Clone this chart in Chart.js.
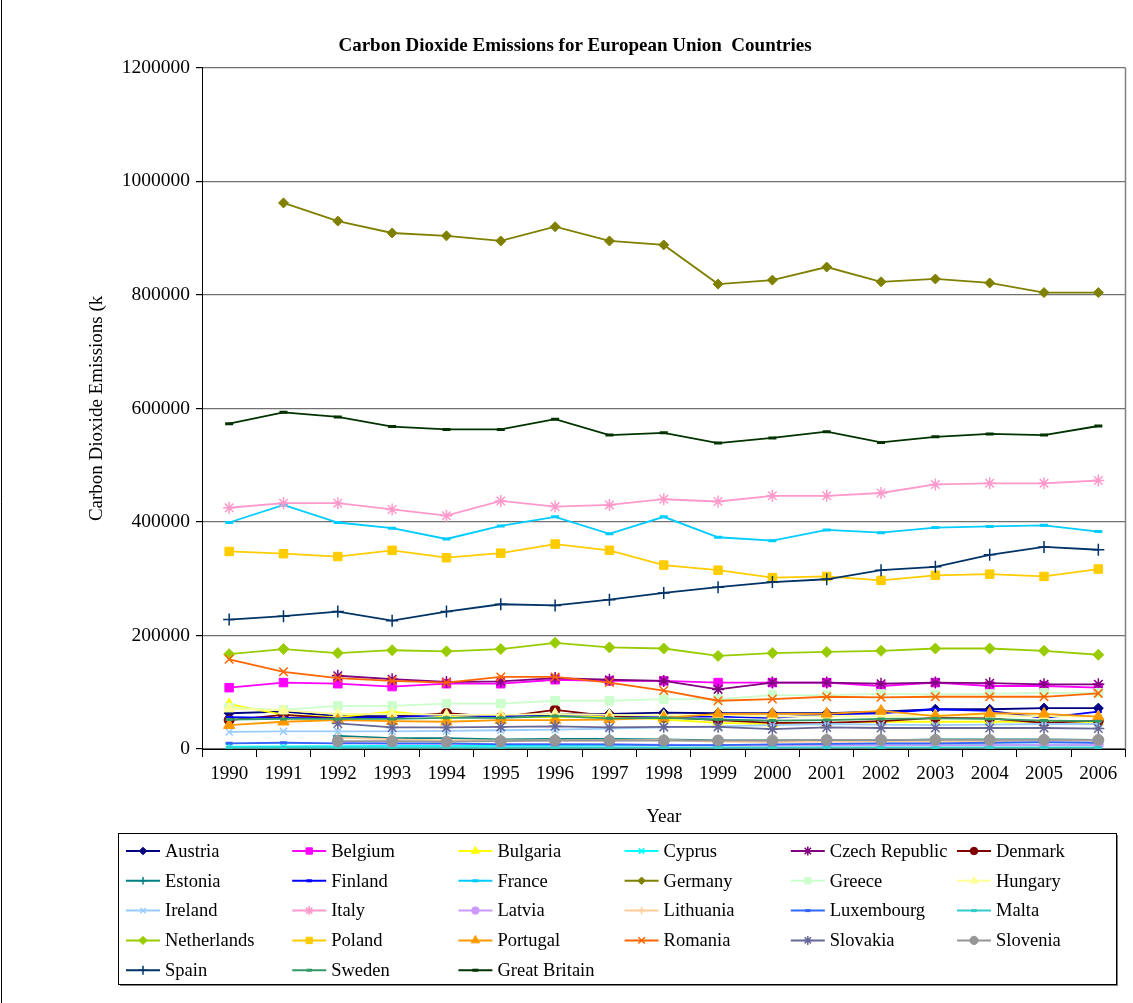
<!DOCTYPE html>
<html>
<head>
<meta charset="utf-8">
<title>Carbon Dioxide Emissions for European Union Countries</title>
<script src="https://cdn.jsdelivr.net/npm/chart.js@4.4.0/dist/chart.umd.min.js"></script>
<style>
  body { margin: 0; background: #fff; }
  #wrap { width: 1133px; height: 1003px; }
</style>
</head>
<body>
<div id="wrap"><canvas id="co2-chart" width="1133" height="1003"></canvas></div>
<script>
// values (kt), null = no reading that year
const years = ["1990","1991","1992","1993","1994","1995","1996","1997","1998","1999","2000","2001","2002","2003","2004","2005","2006"];
const yTicks = [0, 200000, 400000, 600000, 800000, 1000000, 1200000];

const austria     = [63000, 66000, 58000, 58000, 60000, 58000, 60000, 62000, 64000, 63000, 63000, 63000, 66000, 70000, 70000, 72000, 72000];
const belgium     = [108000, 117000, 115000, 110000, 115000, 115000, 122000, 120000, 120000, 117000, 117000, 117000, 111000, 117000, 111000, 111000, 108000];
const bulgaria    = [79000, 60000, 56000, 66000, 56000, 56000, 56000, 58000, 52000, 46000, 44000, 46000, 48000, 48000, 48000, 48000, 48000];
const cyprus      = [4000, 4500, 5000, 5500, 5500, 5500, 6000, 6000, 6500, 7000, 7000, 7000, 7000, 7500, 7500, 7500, 7500];
const czech       = [null, null, 129000, 123000, 118000, 119000, 125000, 122000, 120000, 105000, 117000, 117000, 115000, 117000, 116000, 114000, 114000];
const denmark     = [51000, 60000, 54000, 56000, 63000, 56000, 69000, 58000, 56000, 51000, 46000, 46000, 49000, 55000, 54000, 46000, 50000];
const estonia     = [null, null, 23000, 19000, 19000, 17000, 18000, 18000, 17000, 15000, 15000, 15000, 15000, 17000, 17000, 17000, 16000];
const finland     = [56000, 55000, 54000, 56000, 60000, 57000, 62000, 60000, 57000, 57000, 55000, 61000, 63000, 70000, 67000, 55000, 66000];
const france      = [399000, 430000, 399000, 389000, 370000, 393000, 409000, 379000, 409000, 373000, 367000, 386000, 381000, 390000, 392000, 394000, 383000];
const germany     = [null, 962000, 930000, 909000, 904000, 895000, 920000, 895000, 888000, 819000, 826000, 849000, 823000, 828000, 821000, 804000, 804000];
const greece      = [73000, 69000, 76000, 76000, 80000, 80000, 85000, 85000, 88000, 88000, 95000, 95000, 97000, 96000, 97000, 99000, 99000];
const hungary     = [71000, 68000, 62000, 62000, 60000, 60000, 62000, 60000, 59000, 60000, 57000, 58000, 57000, 60000, 58000, 58000, 57000];
const ireland     = [30000, 31000, 31000, 31000, 32000, 33000, 34000, 36000, 38000, 40000, 42000, 44000, 43000, 42000, 43000, 44000, 44000];
const italy       = [425000, 433000, 433000, 422000, 411000, 437000, 427000, 430000, 440000, 436000, 446000, 446000, 451000, 466000, 468000, 468000, 473000];
const latvia      = [null, null, 11000, 9500, 9000, 8500, 8500, 8000, 7500, 7000, 6500, 7000, 7000, 7000, 7000, 7500, 7500];
const lithuania   = [null, null, 20000, 17000, 15000, 15000, 15000, 15000, 16000, 13000, 12000, 13000, 13000, 13000, 14000, 15000, 15000];
const luxembourg  = [10000, 11000, 10000, 10000, 10000, 8000, 8000, 8000, 7000, 7000, 8000, 9000, 10000, 10000, 11000, 12000, 11000];
const malta       = [2500, 2600, 2600, 2600, 2600, 2500, 2600, 2500, 2500, 2600, 2600, 2700, 2700, 2800, 2800, 2800, 2800];
const netherlands = [167000, 176000, 169000, 174000, 172000, 176000, 187000, 179000, 177000, 164000, 169000, 171000, 173000, 177000, 177000, 173000, 166000];
const poland      = [348000, 344000, 339000, 350000, 337000, 345000, 361000, 350000, 324000, 315000, 302000, 304000, 297000, 306000, 308000, 304000, 317000];
const portugal    = [42000, 48000, 51000, 49000, 48000, 51000, 51000, 52000, 55000, 62000, 62000, 62000, 67000, 58000, 63000, 62000, 57000];
const romania     = [158000, 136000, 125000, 120000, 117000, 127000, 127000, 117000, 103000, 85000, 88000, 92000, 91000, 92000, 92000, 92000, 98000];
const slovakia    = [null, null, 45000, 38000, 38000, 39000, 40000, 38000, 39000, 39000, 35000, 38000, 37000, 37000, 37000, 37000, 36000];
const slovenia    = [null, null, 14000, 14000, 13000, 14000, 15000, 15000, 15000, 15000, 15000, 16000, 16000, 16000, 16000, 16000, 16000];
const spain       = [228000, 234000, 242000, 226000, 242000, 255000, 253000, 263000, 275000, 285000, 294000, 299000, 315000, 321000, 342000, 356000, 351000];
const sweden      = [52000, 53000, 53000, 53000, 55000, 55000, 58000, 54000, 55000, 52000, 50000, 51000, 53000, 54000, 53000, 50000, 49000];
const britain     = [573000, 593000, 585000, 568000, 563000, 563000, 581000, 553000, 557000, 539000, 548000, 559000, 540000, 550000, 555000, 553000, 569000];

const countryNames = ["Austria", "Belgium", "Bulgaria", "Cyprus", "Czech Republic", "Denmark",
  "Estonia", "Finland", "France", "Germany", "Greece", "Hungary",
  "Ireland", "Italy", "Latvia", "Lithuania", "Luxembourg", "Malta",
  "Netherlands", "Poland", "Portugal", "Romania", "Slovakia", "Slovenia",
  "Spain", "Sweden", "Great Britain"];
const countryValues = [austria, belgium, bulgaria, cyprus, czech, denmark,
  estonia, finland, france, germany, greece, hungary,
  ireland, italy, latvia, lithuania, luxembourg, malta,
  netherlands, poland, portugal, romania, slovakia, slovenia,
  spain, sweden, britain];

// excel style look for each series: colour, marker, marker radius
const looks = [
  ["#000080", "rectRot", 5], ["#FF00FF", "rect", 6], ["#FFFF00", "triangle", 6],
  ["#00FFFF", "crossRot", 5], ["#800080", "star", 6], ["#800000", "circle", 5],
  ["#008080", "cross", 5], ["#0000FF", "line", 3.5], ["#00CCFF", "line", 4],
  ["#808000", "rectRot", 5], ["#CCFFCC", "rect", 6], ["#FFFF99", "triangle", 6],
  ["#99CCFF", "crossRot", 5], ["#FF99CC", "star", 6], ["#CC99FF", "circle", 5],
  ["#FFCC99", "cross", 5], ["#3366FF", "line", 3.5], ["#33CCCC", "line", 3.5],
  ["#99CC00", "rectRot", 5.5], ["#FFCC00", "rect", 6], ["#FF9900", "triangle", 6.5],
  ["#FF6600", "crossRot", 6], ["#666699", "star", 6], ["#969696", "circle", 5.5],
  ["#003366", "cross", 6], ["#339966", "line", 3.5], ["#003300", "line", 4]
];

const serif = '"Liberation Serif", "Times New Roman", serif';

const datasets = countryNames.map((name, i) => {
  const [color, style, r] = looks[i];
  const strokeOnly = style === "line" || style === "cross" || style === "crossRot" || style === "star";
  return {
    label: name,
    data: countryValues[i],
    borderColor: color,
    backgroundColor: color,
    borderWidth: 1.8,
    pointStyle: style,
    pointRadius: r,
    pointBackgroundColor: color,
    pointBorderColor: color,
    pointBorderWidth: style === "line" ? 3 : (strokeOnly ? 1.5 : 1),
    tension: 0,
    fill: false,
    order: countryNames.length - i  // later series on top, like excel
  };
});

// legend drawn in a box, 6 columns
const legendBox = {
  id: "legendBox",
  afterDraw(chart) {
    const ctx = chart.ctx;
    ctx.save();
    ctx.fillStyle = "#808080";
    ctx.fillRect(120, 984, 998, 2);
    ctx.fillRect(1116, 835, 2, 151);
    ctx.strokeStyle = "#000";
    ctx.lineWidth = 1;
    ctx.strokeRect(118.5, 833.5, 998, 151);
    chart.data.datasets.forEach((ds, i) => {
      const x = 126 + (i % 6) * 166.2;
      const y = 851 + Math.floor(i / 6) * 29.8;
      ctx.strokeStyle = ds.borderColor;
      ctx.lineWidth = 2;
      ctx.beginPath();
      ctx.moveTo(x, y);
      ctx.lineTo(x + 34, y);
      ctx.stroke();
      ctx.fillStyle = ds.pointBackgroundColor;
      ctx.strokeStyle = ds.pointBorderColor;
      ctx.lineWidth = ds.pointBorderWidth;
      Chart.helpers.drawPoint(ctx, {
        pointStyle: ds.pointStyle, radius: ds.pointRadius * 0.75, rotation: 0, borderWidth: ds.pointBorderWidth
      }, x + 17, y);
      ctx.fillStyle = "#000";
      ctx.font = "18.5px " + serif;
      ctx.textBaseline = "middle";
      ctx.textAlign = "left";
      ctx.fillText(ds.label, x + 39, y + 1);
    });
    ctx.restore();
  }
};

// plot area frame on the right, and the outer left edge
const frame = {
  id: "frame",
  beforeDatasetsDraw(chart) {
    const { ctx, chartArea } = chart;
    ctx.save();
    ctx.strokeStyle = "#808080";
    ctx.lineWidth = 1.5;
    ctx.beginPath();
    ctx.moveTo(chartArea.right, chartArea.top);
    ctx.lineTo(chartArea.right, chartArea.bottom);
    ctx.stroke();
    ctx.strokeStyle = "#000";
    ctx.lineWidth = 1;
    ctx.beginPath();
    ctx.moveTo(1.5, 0);
    ctx.lineTo(1.5, 1003);
    ctx.stroke();
    ctx.restore();
  }
};

const ctx = document.getElementById("co2-chart").getContext("2d");
const co2Chart = new Chart(ctx, {
  type: "line",
  data: { labels: years, datasets: datasets },
  plugins: [legendBox, frame],
  options: {
    responsive: false,
    animation: false,
    devicePixelRatio: 1,
    layout: { padding: { left: 22, right: 5, top: 0, bottom: 173 } },
    plugins: {
      legend: { display: false },
      tooltip: { enabled: false },
      title: {
        display: true,
        text: "Carbon Dioxide Emissions for European Union  Countries",
        color: "#000",
        font: { family: serif, size: 19, weight: "bold" },
        padding: { top: 35, bottom: 10 }
      }
    },
    scales: {
      x: {
        offset: true,
        grid: { drawOnChartArea: false, drawTicks: true, tickLength: 8, color: "#000", offset: true },
        border: { color: "#000", width: 1 },
        ticks: { color: "#000", font: { family: serif, size: 19 }, padding: 6, maxRotation: 0, autoSkip: false },
        title: { display: true, text: "Year", color: "#000", font: { family: serif, size: 19 }, padding: { top: 0, bottom: 2 } },
        afterFit(scale) { scale.height = 81; }
      },
      y: {
        min: 0,
        max: 1200000,
        afterBuildTicks(scale) { scale.ticks = yTicks.map(v => ({ value: v })); },
        grid: { color: "#707070", lineWidth: 1.2, tickLength: 6, tickColor: "#000" },
        border: { color: "#000", width: 1 },
        ticks: { color: "#000", font: { family: serif, size: 19.5 }, padding: 6, callback: v => String(v) },
        title: { display: true, text: "Carbon Dioxide Emissions (k", color: "#000", font: { family: serif, size: 19 }, padding: { top: 64, bottom: 0 } },
        afterFit(scale) { scale.width = 180; }
      }
    }
  }
});
</script>
</body>
</html>
